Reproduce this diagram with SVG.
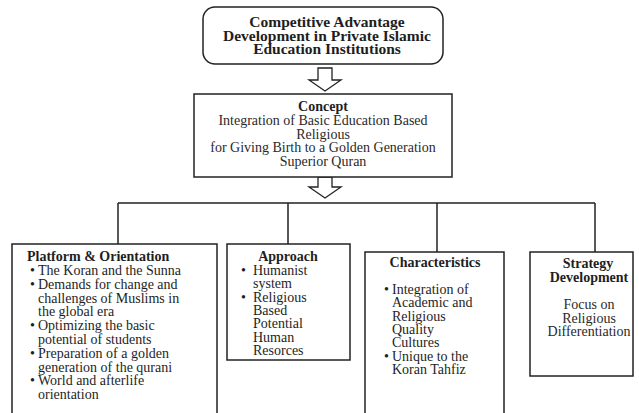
<svg xmlns="http://www.w3.org/2000/svg" width="639" height="413" viewBox="0 0 639 413">
<style>
.box{fill:#fff;stroke:#222;stroke-width:1.5}
.ln{fill:none;stroke:#222;stroke-width:1.5}
.arr{fill:#fff;stroke:#222;stroke-width:1.3;stroke-linejoin:miter}
.cb{font-family:"Liberation Serif",serif;font-weight:bold;font-size:14px;fill:#1e1e1e}
.hb{font-family:"Liberation Serif",serif;font-weight:bold;font-size:15.5px;fill:#1e1e1e}
.c{font-family:"Liberation Serif",serif;font-size:14px;fill:#2a2a2a}
.t{font-family:"Liberation Serif",serif;font-size:14px;fill:#1e1e1e}
.tb{font-family:"Liberation Serif",serif;font-weight:bold;font-size:14px;fill:#1e1e1e}
.m{text-anchor:middle}
</style>
<rect width="639" height="413" fill="#fff"/>
<g id="top">
<rect class="box" x="203" y="7" width="240" height="57" rx="12"/>
<text class="hb m" x="327" y="27">Competitive Advantage</text>
<text class="hb m" x="327" y="40.5">Development in Private Islamic</text>
<text class="hb m" x="327" y="54">Education Institutions</text>
</g>
<g id="arrows">
<path class="arr" d="M318,68 H332 V80 H341 L325,91 L309,80 H318 Z"/>
<path class="arr" d="M318,177 H332 V187 H341 L325,198 L309,187 H318 Z"/>
</g>
<g id="concept">
<rect class="box" x="194" y="94" width="258" height="83"/>
<text class="cb m" x="323" y="111">Concept</text>
<text class="c m" x="323" y="125">Integration of Basic Education Based</text>
<text class="c m" x="323" y="138.5">Religious</text>
<text class="c m" x="323" y="152">for Giving Birth to a Golden Generation</text>
<text class="c m" x="323" y="166">Superior Quran</text>
</g>
<g id="connectors">
<path class="ln" d="M118,203 H595 M118,203 V244 M288,203 V244 M437,203 V252 M595,203 V252"/>
</g>
<g id="platform">
<rect class="box" x="12" y="244" width="205" height="175"/>
<text class="tb" x="27" y="261">Platform &amp; Orientation</text>
<g class="t">
<text x="30" y="275">•</text><text x="38" y="275">The Koran and the Sunna</text>
<text x="30" y="289">•</text><text x="38" y="289">Demands for change and</text>
<text x="38" y="302.5">challenges of Muslims in</text>
<text x="38" y="316">the global era</text>
<text x="30" y="330">•</text><text x="38" y="330">Optimizing the basic</text>
<text x="38" y="344">potential of students</text>
<text x="30" y="358">•</text><text x="38" y="358">Preparation of a golden</text>
<text x="38" y="371.5">generation of the qurani</text>
<text x="30" y="385">•</text><text x="38" y="385">World and afterlife</text>
<text x="38" y="398.5">orientation</text>
</g>
</g>
<g id="approach">
<rect class="box" x="227" y="244" width="123" height="116"/>
<text class="tb m" x="288" y="261">Approach</text>
<g class="t">
<text x="241" y="275">•</text><text x="253" y="275">Humanist</text>
<text x="253" y="288.3">system</text>
<text x="241" y="301.6">•</text><text x="253" y="301.6">Religious</text>
<text x="253" y="315">Based</text>
<text x="253" y="328.3">Potential</text>
<text x="253" y="341.6">Human</text>
<text x="253" y="355">Resorces</text>
</g>
</g>
<g id="characteristics">
<rect class="box" x="365" y="252" width="139" height="170"/>
<text class="tb m" x="435" y="267">Characteristics</text>
<g class="t">
<text x="384" y="294">•</text><text x="392" y="294">Integration of</text>
<text x="392" y="307.3">Academic and</text>
<text x="392" y="320.6">Religious</text>
<text x="392" y="334">Quality</text>
<text x="392" y="347.3">Cultures</text>
<text x="384" y="360.6">•</text><text x="392" y="360.6">Unique to the</text>
<text x="392" y="374">Koran Tahfiz</text>
</g>
</g>
<g id="strategy">
<rect class="box" x="530" y="252" width="103" height="124"/>
<text class="cb m" x="588" y="268">Strategy</text>
<text class="cb m" x="589" y="282">Development</text>
<text class="c m" x="589" y="309">Focus on</text>
<text class="c m" x="589" y="322.5">Religious</text>
<text class="c m" x="589" y="336">Differentiation</text>
</g>
</svg>
